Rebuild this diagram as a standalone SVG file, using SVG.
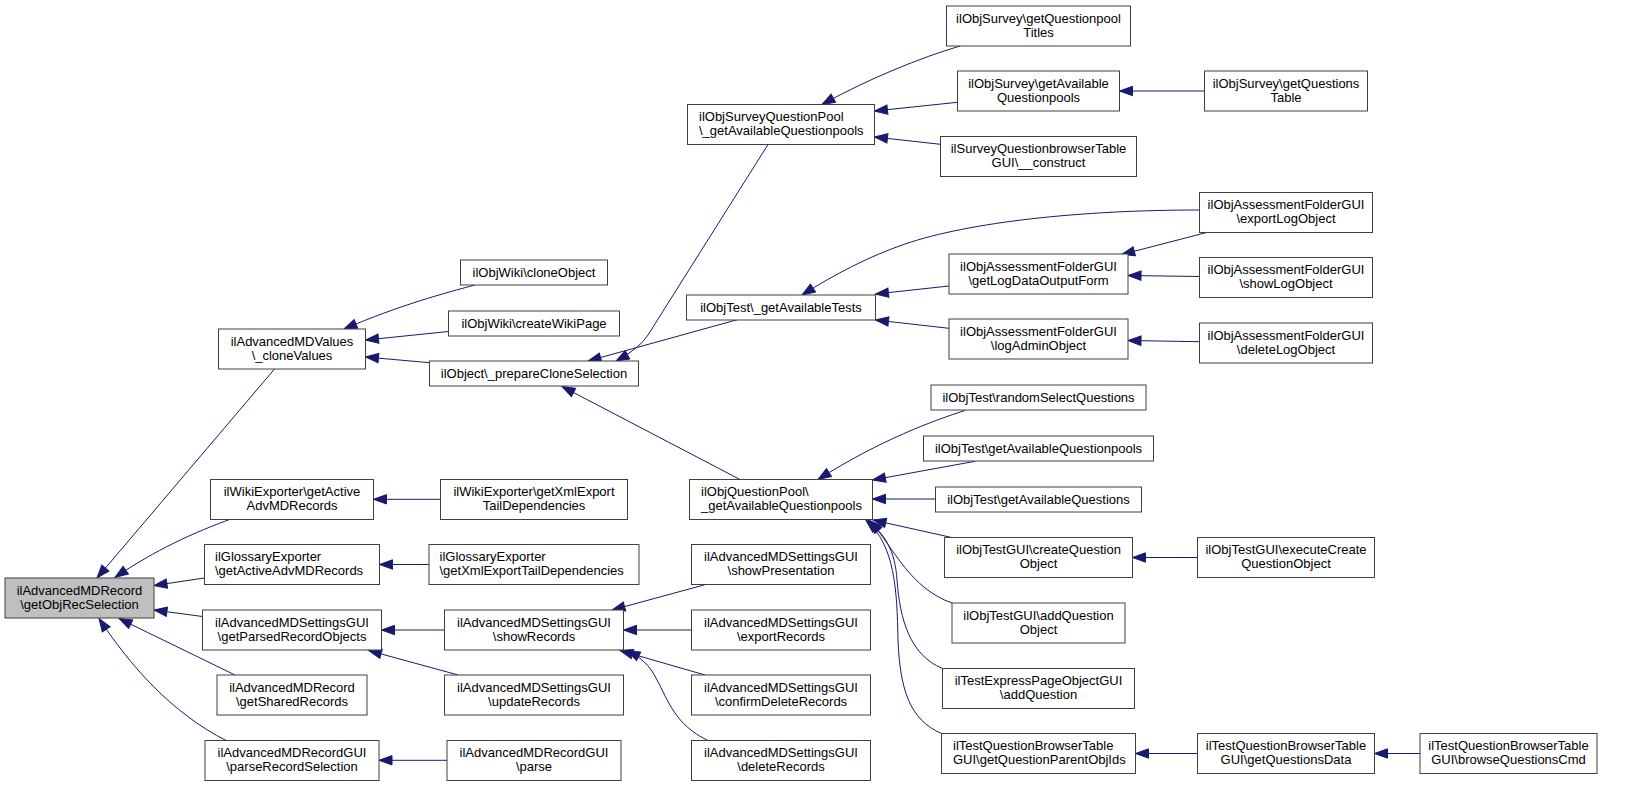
<svg xmlns="http://www.w3.org/2000/svg" width="1631" height="787" viewBox="0 0 1631 787">
<style>
.n rect{fill:#ffffff;stroke:#404040;stroke-width:1}
.n.sel rect{fill:#bfbfbf}
text{font-family:"Liberation Sans",Arial,Helvetica,sans-serif;font-size:13px;fill:#000}
.c{text-anchor:middle}
.l{text-anchor:start}
#edges path{fill:none;stroke:#191970;stroke-width:1;marker-end:url(#ah)}
</style>
<defs>
<marker id="ah" markerUnits="userSpaceOnUse" markerWidth="15" markerHeight="12" refX="13" refY="5" orient="auto" overflow="visible">
<path d="M0,0.3 L13,5 L0,9.7 Z" fill="#191970" stroke="#191970" stroke-width="1"/>
</marker>
</defs>
<rect x="0" y="0" width="1631" height="787" fill="#ffffff"/>
<g id="edges">
<path d="M274.5,369 L97,578"/>
<path d="M231,519 C195,532 155,550 115,577.5"/>
<path d="M204.5,578 L154,585.5"/>
<path d="M202.5,616.5 L154,610"/>
<path d="M235,675 L119,618.5"/>
<path d="M227,741 C170,712 130,665 99,618.5"/>
<path d="M475,285 C445,293 400,305 344,329"/>
<path d="M448.5,331.5 L365.5,340"/>
<path d="M429.5,362.7 L365.5,357"/>
<path d="M768,144.5 L648,335 Q640,348 616,361"/>
<path d="M738,319.5 L588,361"/>
<path d="M740,479.5 L562,386.5"/>
<path d="M960,46 C920,58 870,78 822,104.5"/>
<path d="M957.5,102.3 L874.5,111"/>
<path d="M940.5,144.3 L874.5,137"/>
<path d="M1204.5,91 L1119.5,91"/>
<path d="M1199.5,210 C1080,210 970,222 905,244 C870,256 835,274 802,295"/>
<path d="M949,286 L875.5,294"/>
<path d="M949,328.3 L875.5,320"/>
<path d="M1206.7,232.5 L1121.7,254.5"/>
<path d="M1199.5,276.5 L1128,275.5"/>
<path d="M1199.5,341.7 L1128,340.5"/>
<path d="M965,410.5 C935,420 880,440 818,479.5"/>
<path d="M975,461.3 L872.5,480"/>
<path d="M935.5,499 L872.5,499"/>
<path d="M951.7,537.5 L873,520"/>
<path d="M952,603 C910,588 895,550 870,520.5"/>
<path d="M942.5,668.5 C910,655 900,620 897,580 C895,550 885,535 868,520.5"/>
<path d="M941.5,733.5 C910,720 900,690 898,640 C897,590 895,545 866,520.5"/>
<path d="M1197.5,557.5 L1132.5,557.5"/>
<path d="M1197.5,753.5 L1135.5,753.5"/>
<path d="M1420,753.5 L1374.5,753.5"/>
<path d="M440.5,499.3 L373.5,499.3"/>
<path d="M429,564.5 L379.5,564.5"/>
<path d="M444.5,630 L381.5,630"/>
<path d="M458.3,675 L368.5,650.5"/>
<path d="M447,760.3 L379,760.3"/>
<path d="M705,584.7 L612,610"/>
<path d="M691.5,630 L623.5,630"/>
<path d="M705,675 L620,650.5"/>
<path d="M708,740.5 C675,725 668,700 657,680 C650,665 640,657 627,650.5"/>
</g>
<g id="n0" class="n sel"><rect x="5" y="578" width="149" height="40"/><text class="c" x="79.5" y="594.5">ilAdvancedMDRecord</text><text class="c" x="79.5" y="608.5">\getObjRecSelection</text></g>
<g id="n1" class="n"><rect x="218.5" y="329" width="147" height="40"/><text class="c" x="292" y="345.5">ilAdvancedMDValues</text><text class="c" x="292" y="359.5">\_cloneValues</text></g>
<g id="n2" class="n"><rect x="210.5" y="479.5" width="163" height="40"/><text class="c" x="292" y="496">ilWikiExporter\getActive</text><text class="c" x="292" y="510">AdvMDRecords</text></g>
<g id="n3" class="n"><rect x="204.5" y="544.5" width="175" height="40"/><text class="l" x="215" y="561">ilGlossaryExporter</text><text class="l" x="215" y="575">\getActiveAdvMDRecords</text></g>
<g id="n4" class="n"><rect x="202.5" y="610" width="179" height="40"/><text class="c" x="292" y="626.5">ilAdvancedMDSettingsGUI</text><text class="c" x="292" y="640.5">\getParsedRecordObjects</text></g>
<g id="n5" class="n"><rect x="217" y="675" width="150" height="40"/><text class="c" x="292" y="691.5">ilAdvancedMDRecord</text><text class="c" x="292" y="705.5">\getSharedRecords</text></g>
<g id="n6" class="n"><rect x="205" y="740.5" width="174" height="40"/><text class="c" x="292" y="757">ilAdvancedMDRecordGUI</text><text class="c" x="292" y="771">\parseRecordSelection</text></g>
<g id="n7" class="n"><rect x="460.5" y="260" width="147" height="25"/><text class="c" x="534" y="276.5">ilObjWiki\cloneObject</text></g>
<g id="n8" class="n"><rect x="448.5" y="311" width="171" height="25"/><text class="c" x="534" y="327.5">ilObjWiki\createWikiPage</text></g>
<g id="n9" class="n"><rect x="429.5" y="361" width="209" height="25"/><text class="c" x="534" y="377.5">ilObject\_prepareCloneSelection</text></g>
<g id="n10" class="n"><rect x="440.5" y="479.5" width="187" height="40"/><text class="c" x="534" y="496">ilWikiExporter\getXmlExport</text><text class="c" x="534" y="510">TailDependencies</text></g>
<g id="n11" class="n"><rect x="429" y="544.5" width="210" height="40"/><text class="l" x="439.5" y="561">ilGlossaryExporter</text><text class="l" x="439.5" y="575">\getXmlExportTailDependencies</text></g>
<g id="n12" class="n"><rect x="444.5" y="610" width="179" height="40"/><text class="c" x="534" y="626.5">ilAdvancedMDSettingsGUI</text><text class="c" x="534" y="640.5">\showRecords</text></g>
<g id="n13" class="n"><rect x="444.5" y="675" width="179" height="40"/><text class="c" x="534" y="691.5">ilAdvancedMDSettingsGUI</text><text class="c" x="534" y="705.5">\updateRecords</text></g>
<g id="n14" class="n"><rect x="447" y="740.5" width="174" height="40"/><text class="c" x="534" y="757">ilAdvancedMDRecordGUI</text><text class="c" x="534" y="771">\parse</text></g>
<g id="n15" class="n"><rect x="687.5" y="104.5" width="187" height="40"/><text class="l" x="699" y="121">ilObjSurveyQuestionPool</text><text class="l" x="699" y="135">\_getAvailableQuestionpools</text></g>
<g id="n16" class="n"><rect x="686.5" y="295" width="189" height="25"/><text class="c" x="781" y="311.5">ilObjTest\_getAvailableTests</text></g>
<g id="n17" class="n"><rect x="689.5" y="479.5" width="183" height="40"/><text class="l" x="701" y="496">ilObjQuestionPool\</text><text class="l" x="701" y="510">_getAvailableQuestionpools</text></g>
<g id="n18" class="n"><rect x="691.5" y="544.5" width="179" height="40"/><text class="c" x="781" y="561">ilAdvancedMDSettingsGUI</text><text class="c" x="781" y="575">\showPresentation</text></g>
<g id="n19" class="n"><rect x="691.5" y="610" width="179" height="40"/><text class="c" x="781" y="626.5">ilAdvancedMDSettingsGUI</text><text class="c" x="781" y="640.5">\exportRecords</text></g>
<g id="n20" class="n"><rect x="691.5" y="675" width="179" height="40"/><text class="c" x="781" y="691.5">ilAdvancedMDSettingsGUI</text><text class="c" x="781" y="705.5">\confirmDeleteRecords</text></g>
<g id="n21" class="n"><rect x="691.5" y="740.5" width="179" height="40"/><text class="c" x="781" y="757">ilAdvancedMDSettingsGUI</text><text class="c" x="781" y="771">\deleteRecords</text></g>
<g id="n22" class="n"><rect x="946.5" y="6" width="184" height="40"/><text class="c" x="1038.5" y="22.5">ilObjSurvey\getQuestionpool</text><text class="c" x="1038.5" y="36.5">Titles</text></g>
<g id="n23" class="n"><rect x="957.5" y="71" width="162" height="40"/><text class="c" x="1038.5" y="87.5">ilObjSurvey\getAvailable</text><text class="c" x="1038.5" y="101.5">Questionpools</text></g>
<g id="n24" class="n"><rect x="940.5" y="136.5" width="196" height="40"/><text class="c" x="1038.5" y="153">ilSurveyQuestionbrowserTable</text><text class="c" x="1038.5" y="167">GUI\__construct</text></g>
<g id="n25" class="n"><rect x="949" y="254" width="179" height="40"/><text class="c" x="1038.5" y="270.5">ilObjAssessmentFolderGUI</text><text class="c" x="1038.5" y="284.5">\getLogDataOutputForm</text></g>
<g id="n26" class="n"><rect x="949" y="319" width="179" height="40"/><text class="c" x="1038.5" y="335.5">ilObjAssessmentFolderGUI</text><text class="c" x="1038.5" y="349.5">\logAdminObject</text></g>
<g id="n27" class="n"><rect x="931" y="385" width="215" height="25"/><text class="c" x="1038.5" y="401.5">ilObjTest\randomSelectQuestions</text></g>
<g id="n28" class="n"><rect x="923.5" y="436" width="230" height="25"/><text class="c" x="1038.5" y="452.5">ilObjTest\getAvailableQuestionpools</text></g>
<g id="n29" class="n"><rect x="935.5" y="487" width="206" height="25"/><text class="c" x="1038.5" y="503.5">ilObjTest\getAvailableQuestions</text></g>
<g id="n30" class="n"><rect x="944.5" y="537.5" width="188" height="40"/><text class="c" x="1038.5" y="554">ilObjTestGUI\createQuestion</text><text class="c" x="1038.5" y="568">Object</text></g>
<g id="n31" class="n"><rect x="952" y="603" width="173" height="40"/><text class="c" x="1038.5" y="619.5">ilObjTestGUI\addQuestion</text><text class="c" x="1038.5" y="633.5">Object</text></g>
<g id="n32" class="n"><rect x="942.5" y="668.5" width="192" height="40"/><text class="c" x="1038.5" y="685">ilTestExpressPageObjectGUI</text><text class="c" x="1038.5" y="699">\addQuestion</text></g>
<g id="n33" class="n"><rect x="941.5" y="733.5" width="194" height="40"/><text class="l" x="953" y="750">ilTestQuestionBrowserTable</text><text class="l" x="953" y="764">GUI\getQuestionParentObjIds</text></g>
<g id="n34" class="n"><rect x="1204.5" y="71" width="163" height="40"/><text class="c" x="1286" y="87.5">ilObjSurvey\getQuestions</text><text class="c" x="1286" y="101.5">Table</text></g>
<g id="n35" class="n"><rect x="1199.5" y="192.5" width="173" height="40"/><text class="c" x="1286" y="209">ilObjAssessmentFolderGUI</text><text class="c" x="1286" y="223">\exportLogObject</text></g>
<g id="n36" class="n"><rect x="1199.5" y="257.5" width="173" height="40"/><text class="c" x="1286" y="274">ilObjAssessmentFolderGUI</text><text class="c" x="1286" y="288">\showLogObject</text></g>
<g id="n37" class="n"><rect x="1199.5" y="323" width="173" height="40"/><text class="c" x="1286" y="339.5">ilObjAssessmentFolderGUI</text><text class="c" x="1286" y="353.5">\deleteLogObject</text></g>
<g id="n38" class="n"><rect x="1197.5" y="537.5" width="177" height="40"/><text class="c" x="1286" y="554">ilObjTestGUI\executeCreate</text><text class="c" x="1286" y="568">QuestionObject</text></g>
<g id="n39" class="n"><rect x="1197.5" y="733.5" width="177" height="40"/><text class="c" x="1286" y="750">ilTestQuestionBrowserTable</text><text class="c" x="1286" y="764">GUI\getQuestionsData</text></g>
<g id="n40" class="n"><rect x="1420" y="733.5" width="177" height="40"/><text class="c" x="1508.5" y="750">ilTestQuestionBrowserTable</text><text class="c" x="1508.5" y="764">GUI\browseQuestionsCmd</text></g>
</svg>
